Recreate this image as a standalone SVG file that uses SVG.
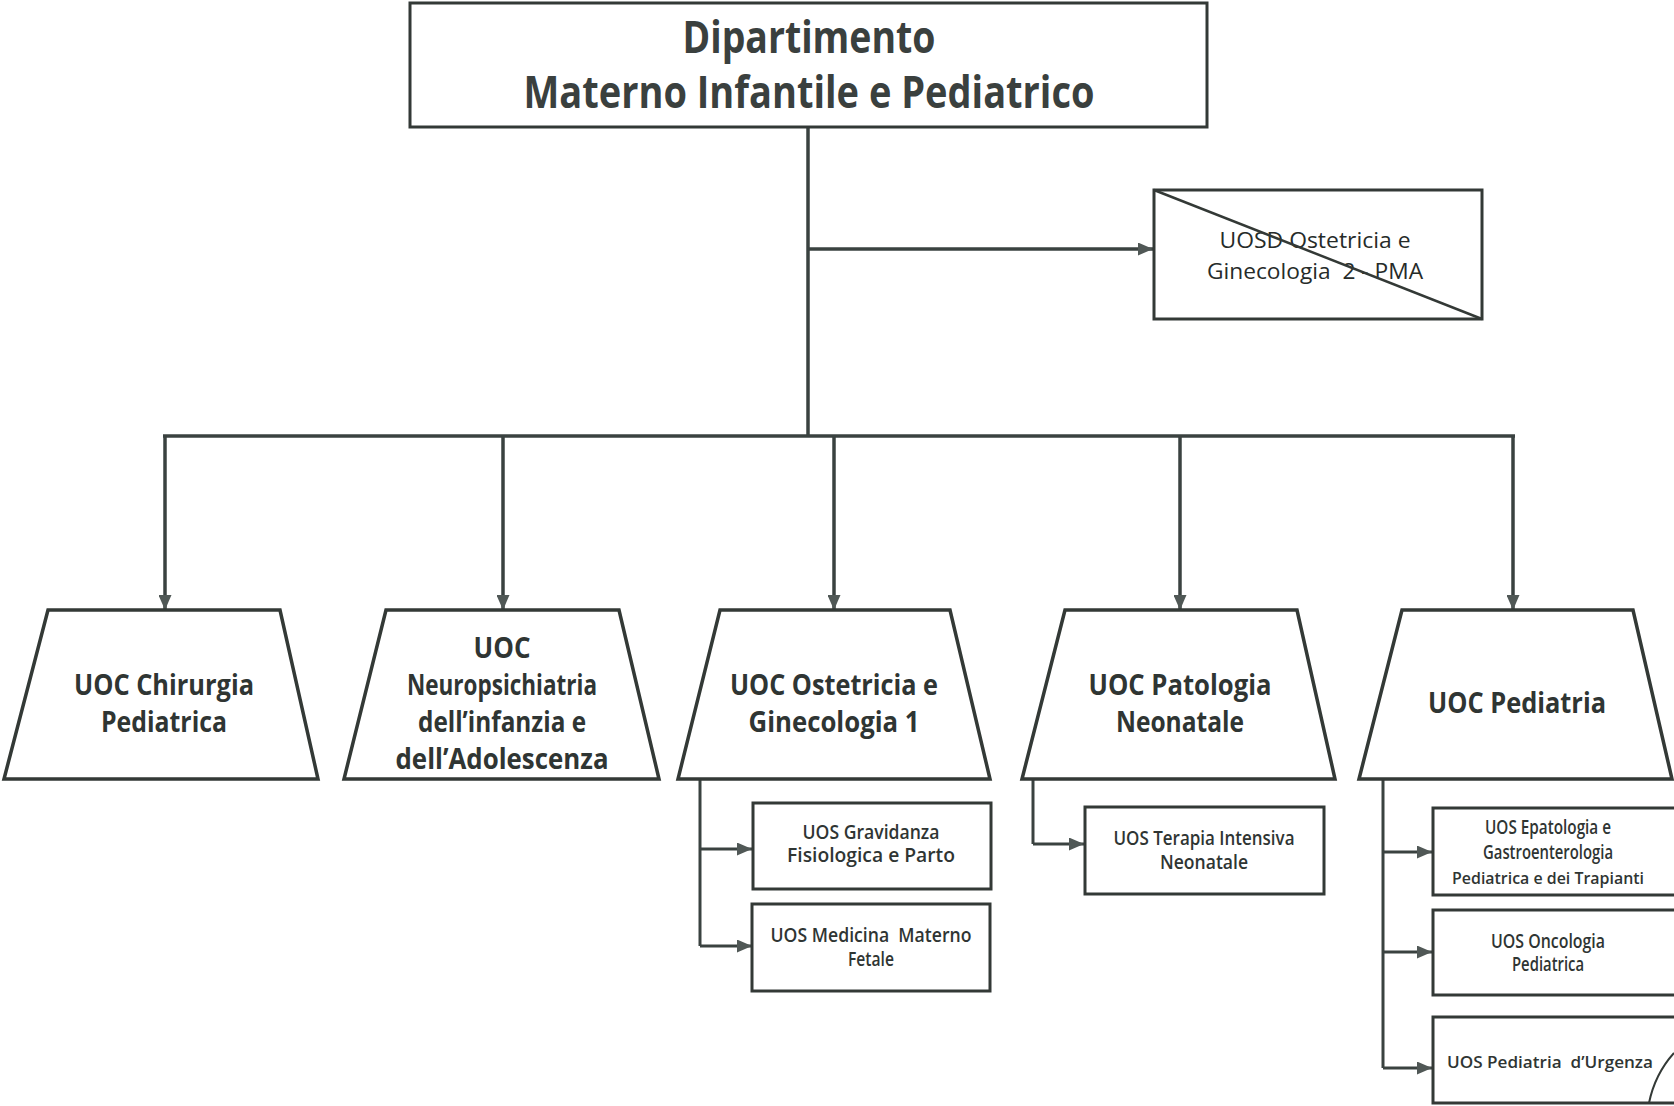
<svg xmlns="http://www.w3.org/2000/svg" width="1674" height="1106" viewBox="0 0 1674 1106">
<style>
.bg{fill:#ffffff}
.box{fill:#ffffff;stroke:#333936;stroke-width:3}
.trap{fill:#ffffff;stroke:#333936;stroke-width:3.5;stroke-linejoin:miter}
.ln{fill:none;stroke:#3a4240;stroke-width:3.5}
.ln2{fill:none;stroke:#3a4240;stroke-width:3}
.t{font-family:"Open Sans","Noto Sans","Liberation Sans",sans-serif;fill:#2f3533;text-anchor:middle}
.hd{font-size:44px;font-weight:700;fill:#3a403e}
.tr{font-size:29px;font-weight:700}
.sm{font-size:19px;font-weight:600}
.sr{font-size:17px;font-weight:600}
.ud{font-size:21px;font-weight:400;fill:#262b29}
</style>
<defs>
<marker id="ah" markerUnits="userSpaceOnUse" markerWidth="15" markerHeight="13" refX="15" refY="6.5" orient="auto">
<path d="M0,0 L15,6.5 L0,13 z" fill="#505856"/>
</marker>
</defs>
<rect class="bg" x="0" y="0" width="1674" height="1106"/>

<g id="connectors">
<line class="ln" x1="808" y1="127" x2="808" y2="436"/>
<line class="ln" x1="808" y1="249" x2="1153" y2="249" marker-end="url(#ah)"/>
<line class="ln" x1="163" y1="436" x2="1515" y2="436"/>
<line class="ln" x1="165" y1="436" x2="165" y2="610" marker-end="url(#ah)"/>
<line class="ln" x1="503" y1="436" x2="503" y2="610" marker-end="url(#ah)"/>
<line class="ln" x1="834" y1="436" x2="834" y2="610" marker-end="url(#ah)"/>
<line class="ln" x1="1180" y1="436" x2="1180" y2="610" marker-end="url(#ah)"/>
<line class="ln" x1="1513" y1="436" x2="1513" y2="610" marker-end="url(#ah)"/>
<polyline class="ln2" points="700,779 700,946"/>
<line class="ln2" x1="700" y1="849" x2="752" y2="849" marker-end="url(#ah)"/>
<line class="ln2" x1="700" y1="946" x2="752" y2="946" marker-end="url(#ah)"/>
<polyline class="ln2" points="1033,779 1033,844"/>
<line class="ln2" x1="1033" y1="844" x2="1084" y2="844" marker-end="url(#ah)"/>
<polyline class="ln2" points="1383,779 1383,1068"/>
<line class="ln2" x1="1383" y1="852" x2="1432" y2="852" marker-end="url(#ah)"/>
<line class="ln2" x1="1383" y1="952" x2="1432" y2="952" marker-end="url(#ah)"/>
<line class="ln2" x1="1383" y1="1068" x2="1432" y2="1068" marker-end="url(#ah)"/>
</g>

<g id="dipartimento">
<rect class="box" x="410" y="3" width="797" height="124" stroke-width="4"/>
<text class="t hd" x="809" y="53" textLength="253" lengthAdjust="spacingAndGlyphs">Dipartimento</text>
<text class="t hd" x="809" y="108" textLength="571" lengthAdjust="spacingAndGlyphs">Materno Infantile e Pediatrico</text>
</g>

<g id="uosd-ostetricia-2">
<rect class="box" x="1154" y="190" width="328" height="129"/>
<text class="t ud" x="1315" y="248" textLength="191" lengthAdjust="spacingAndGlyphs">UOSD Ostetricia e</text>
<text class="t ud" x="1315" y="279" textLength="216" lengthAdjust="spacingAndGlyphs" xml:space="preserve">Ginecologia  2 - PMA</text>
<line x1="1154" y1="190" x2="1482" y2="319" stroke="#333936" stroke-width="2.5"/>
</g>

<g id="uoc-chirurgia">
<polygon class="trap" points="48,610 280,610 318,779 4,779"/>
<text class="t tr" x="164" y="695" textLength="180" lengthAdjust="spacingAndGlyphs">UOC Chirurgia</text>
<text class="t tr" x="164" y="732" textLength="126" lengthAdjust="spacingAndGlyphs">Pediatrica</text>
</g>

<g id="uoc-neuropsichiatria">
<polygon class="trap" points="386,610 619,610 659,779 344,779"/>
<text class="t tr" x="502" y="658" textLength="57" lengthAdjust="spacingAndGlyphs">UOC</text>
<text class="t tr" x="502" y="695" textLength="190" lengthAdjust="spacingAndGlyphs">Neuropsichiatria</text>
<text class="t tr" x="502" y="732" textLength="168" lengthAdjust="spacingAndGlyphs">dell’infanzia e</text>
<text class="t tr" x="502" y="769" textLength="213" lengthAdjust="spacingAndGlyphs">dell’Adolescenza</text>
</g>

<g id="uoc-ostetricia-1">
<polygon class="trap" points="720,610 950,610 990,779 678,779"/>
<text class="t tr" x="834" y="695" textLength="208" lengthAdjust="spacingAndGlyphs">UOC Ostetricia e</text>
<text class="t tr" x="834" y="732" textLength="171" lengthAdjust="spacingAndGlyphs">Ginecologia 1</text>
</g>

<g id="uoc-patologia">
<polygon class="trap" points="1065,610 1297,610 1335,779 1022,779"/>
<text class="t tr" x="1180" y="695" textLength="183" lengthAdjust="spacingAndGlyphs">UOC Patologia</text>
<text class="t tr" x="1180" y="732" textLength="128" lengthAdjust="spacingAndGlyphs">Neonatale</text>
</g>

<g id="uoc-pediatria">
<polygon class="trap" points="1402,610 1633,610 1672,779 1359,779"/>
<text class="t tr" x="1517" y="713" textLength="178" lengthAdjust="spacingAndGlyphs">UOC Pediatria</text>
</g>

<g id="uos-gravidanza">
<rect class="box" x="753" y="803" width="238" height="86"/>
<text class="t sm" x="871" y="839" textLength="137" lengthAdjust="spacingAndGlyphs">UOS Gravidanza</text>
<text class="t sm" x="871" y="862" textLength="168" lengthAdjust="spacingAndGlyphs">Fisiologica e Parto</text>
</g>

<g id="uos-medicina">
<rect class="box" x="752" y="904" width="238" height="87"/>
<text class="t sm" x="871" y="942" textLength="201" lengthAdjust="spacingAndGlyphs" xml:space="preserve">UOS Medicina  Materno</text>
<text class="t sm" x="871" y="966" textLength="46" lengthAdjust="spacingAndGlyphs">Fetale</text>
</g>

<g id="uos-terapia">
<rect class="box" x="1085" y="807" width="239" height="87"/>
<text class="t sm" x="1204" y="845" textLength="181" lengthAdjust="spacingAndGlyphs">UOS Terapia Intensiva</text>
<text class="t sm" x="1204" y="869" textLength="88" lengthAdjust="spacingAndGlyphs">Neonatale</text>
</g>

<g id="uos-epatologia">
<path class="box" d="M1674,808 H1433 V895 H1674"/>
<text class="t sm" x="1548" y="834" textLength="126" lengthAdjust="spacingAndGlyphs">UOS Epatologia e</text>
<text class="t sm" x="1548" y="859" textLength="130" lengthAdjust="spacingAndGlyphs">Gastroenterologia</text>
<text class="t sr" x="1548" y="884" textLength="192" lengthAdjust="spacingAndGlyphs">Pediatrica e dei Trapianti</text>
</g>

<g id="uos-oncologia">
<path class="box" d="M1674,910 H1433 V995 H1674"/>
<text class="t sm" x="1548" y="948" textLength="114" lengthAdjust="spacingAndGlyphs">UOS Oncologia</text>
<text class="t sm" x="1548" y="971" textLength="72" lengthAdjust="spacingAndGlyphs">Pediatrica</text>
</g>

<g id="uos-urgenza">
<path class="box" d="M1674,1017 H1433 V1103 H1674"/>
<text class="t sr" x="1550" y="1068" textLength="206" lengthAdjust="spacingAndGlyphs" xml:space="preserve">UOS Pediatria  d’Urgenza</text>
<path d="M1649,1103 Q1655,1074 1674,1053" fill="none" stroke="#333936" stroke-width="2"/>
</g>
</svg>
